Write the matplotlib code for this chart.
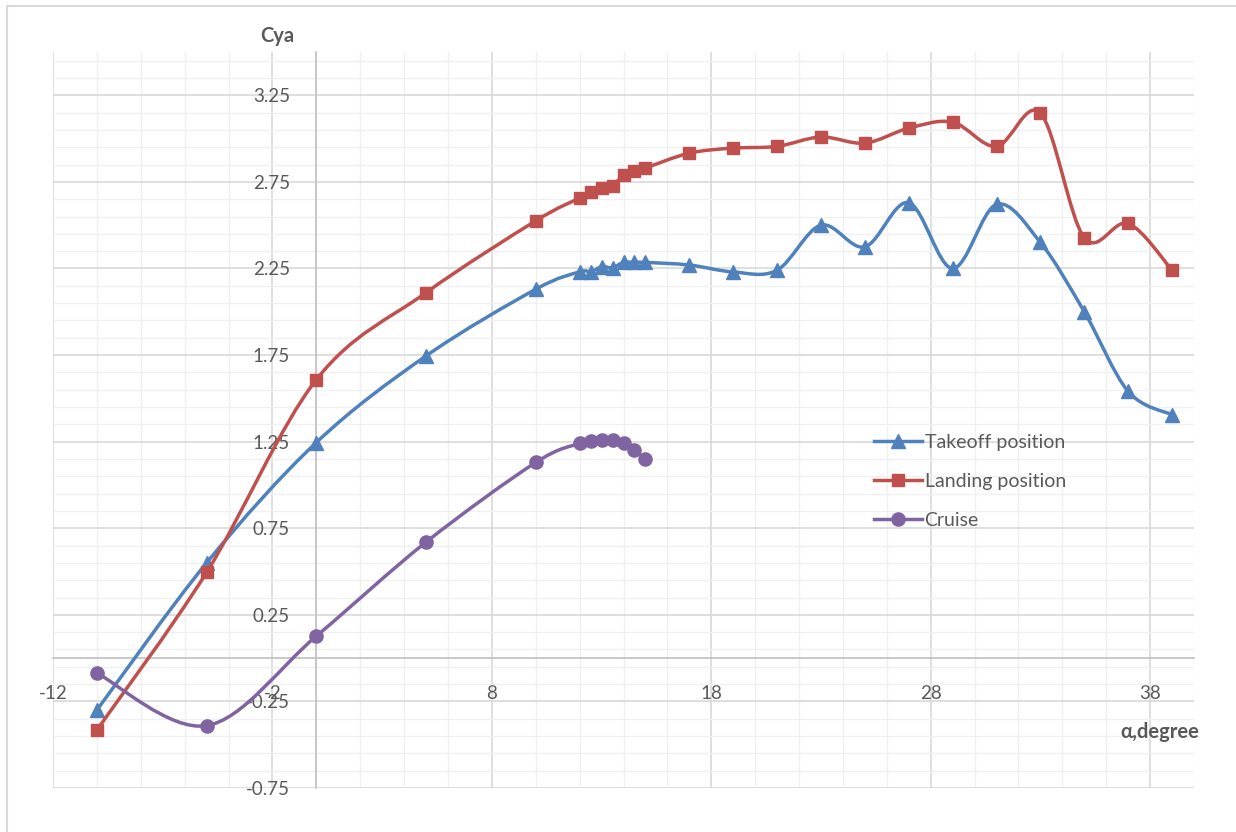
import numpy as np
import matplotlib
matplotlib.use("Agg")
import matplotlib.pyplot as plt
from matplotlib.path import Path
from matplotlib.patches import PathPatch, Rectangle
from matplotlib.lines import Line2D
from matplotlib.ticker import MultipleLocator, FormatStrFormatter

plt.rcParams['font.family'] = ['Lato', 'DejaVu Sans']
plt.rcParams['axes.unicode_minus'] = False

# angle of attack, degrees
alpha_tk = [-10, -5, 0, 5, 10, 12, 12.5, 13, 13.5, 14, 14.5, 15, 17, 19, 21, 23, 25, 27, 29, 31, 33, 35, 37, 39]
cya_tk = [-0.30, 0.55, 1.245, 1.745, 2.13, 2.23, 2.23, 2.26, 2.255, 2.285, 2.285, 2.285, 2.27, 2.23, 2.24,
          2.50, 2.375, 2.63, 2.25, 2.62, 2.40, 2.0, 1.54, 1.405]

alpha_ld = [-10, -5, 0, 5, 10, 12, 12.5, 13, 13.5, 14, 14.5, 15, 17, 19, 21, 23, 25, 27, 29, 31, 33, 35, 37, 39]
cya_ld = [-0.415, 0.495, 1.608, 2.11, 2.525, 2.657, 2.69, 2.715, 2.726, 2.79, 2.81, 2.83, 2.916, 2.945, 2.955,
          3.009, 2.974, 3.06, 3.095, 2.955, 3.147, 2.427, 2.51, 2.24]

alpha_cr = [-10, -5, 0, 5, 10, 12, 12.5, 13, 13.5, 14, 14.5, 15]
cya_cr = [-0.086, -0.39, 0.127, 0.67, 1.13, 1.24, 1.256, 1.262, 1.262, 1.245, 1.2, 1.147]

C_TK = '#4F81BD'
C_LD = '#C0504D'
C_CR = '#8064A2'
TXT = '#595959'


def smooth_path(x, y):
    # Catmull-Rom style bezier through the points (spreadsheet "smoothed line")
    pts = np.column_stack([x, y]).astype(float)
    n = len(pts)
    verts = [pts[0]]
    codes = [Path.MOVETO]
    for i in range(n - 1):
        p0 = pts[max(i - 1, 0)]
        p1 = pts[i]
        p2 = pts[i + 1]
        p3 = pts[min(i + 2, n - 1)]
        verts += [p1 + (p2 - p0) / 6, p2 - (p3 - p1) / 6, p2]
        codes += [Path.CURVE4] * 3
    return Path(verts, codes)


fig = plt.figure(figsize=(12.36, 8.32), dpi=100)
ax = fig.add_axes([53 / 1236, 1 - 788 / 832, (1194 - 53) / 1236, (788 - 52) / 832])

ax.set_xlim(-12, 40)
ax.set_ylim(-0.75, 3.5)

ax.xaxis.set_major_locator(MultipleLocator(10, offset=8))
ax.xaxis.set_minor_locator(MultipleLocator(2))
ax.yaxis.set_major_locator(MultipleLocator(0.5, offset=0.25))
ax.yaxis.set_minor_locator(MultipleLocator(0.1, offset=0.05))
ax.yaxis.set_major_formatter(FormatStrFormatter('%.2f'))

ax.grid(which='major', color='#D9D9D9', lw=1.2)
ax.grid(which='minor', color='#F0F0F0', lw=1.0)
ax.set_axisbelow(True)

for s in ['top', 'right']:
    ax.spines[s].set_visible(False)
ax.spines['bottom'].set_position(('data', 0))
ax.spines['left'].set_position(('data', 0))
for s in ['bottom', 'left']:
    ax.spines[s].set_color('#BFBFBF')
    ax.spines[s].set_linewidth(1.2)
    ax.spines[s].set_zorder(1.5)

ax.tick_params(which='both', length=0)
ax.tick_params(axis='x', labelsize=13.5, labelcolor=TXT, pad=19)
ax.tick_params(axis='y', labelsize=13.5, labelcolor=TXT, pad=19)

series = [
    (alpha_tk, cya_tk, C_TK, '^', 10.5, 'Takeoff position'),
    (alpha_ld, cya_ld, C_LD, 's', 9, 'Landing position'),
    (alpha_cr, cya_cr, C_CR, 'o', 9.5, 'Cruise'),
]
handles = []
for k, (x, y, c, m, ms, name) in enumerate(series):
    ax.add_patch(PathPatch(smooth_path(x, y), fill=False, edgecolor=c, lw=2.5,
                           capstyle='round', joinstyle='round', zorder=3 + k))
    ax.plot(x, y, linestyle='none', marker=m, ms=ms, color=c, zorder=3.5 + k)
    handles.append(Line2D([], [], color=c, lw=2.5, marker=m, ms=ms))

ax.legend(handles, [s[5] for s in series], loc='upper left',
          bbox_to_anchor=(874 / 1236, 1 - 434 / 832), bbox_transform=fig.transFigure,
          frameon=False, fontsize=14, labelcolor=TXT, borderpad=0, borderaxespad=0,
          handlelength=2.45, handletextpad=0.15, labelspacing=1.12)

fig.text(277 / 1236, 1 - 36 / 832, 'Cya', fontsize=14.5, fontweight='bold', color=TXT,
         ha='center', va='center')
fig.text(1160 / 1236, 1 - 732 / 832, 'α,degree', fontsize=14.5, fontweight='bold', color=TXT,
         ha='center', va='center')

# chart area border
fig.patches.append(Rectangle((7 / 1236, -0.1), 1.2, 1 - 6 / 832 + 0.1, transform=fig.transFigure,
                             fill=False, edgecolor='#D9D9D9', lw=1.5))

fig.savefig('out.png', dpi=100)
